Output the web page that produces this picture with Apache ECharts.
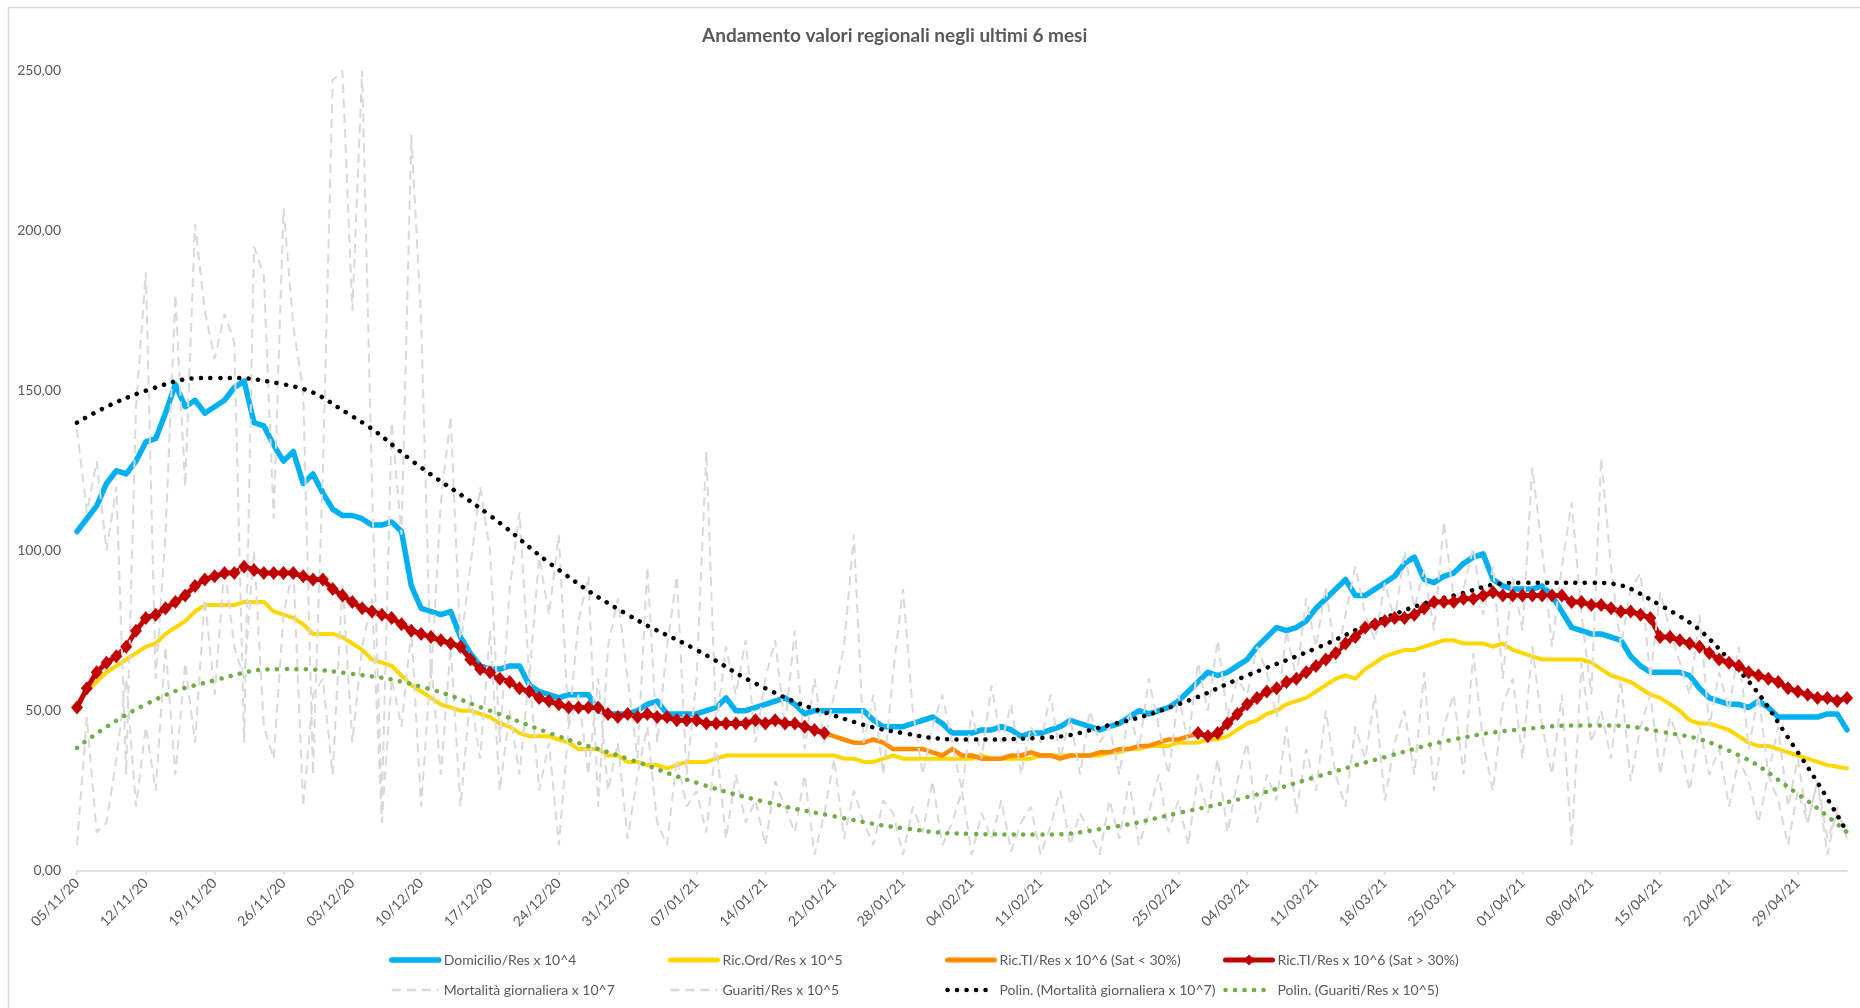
<!DOCTYPE html>
<html>
<head>
<meta charset="utf-8">
<script src="https://cdn.jsdelivr.net/npm/echarts@6/dist/echarts.min.js"></script>
<style>
  html, body { margin: 0; padding: 0; background: #ffffff; }
  #chart { width: 1860px; height: 1008px; }
</style>
</head>
<body>
<div id="chart"></div>
<script>
// ---- Daily categories: 05/11/20 -> 04/05/21 ----
const firstDay = Date.UTC(2020, 10, 5);
const dayCount = 181;
const dates = [];
for (let i = 0; i < dayCount; i++) {
  const d = new Date(firstDay + i * 86400000);
  const dd = String(d.getUTCDate()).padStart(2, '0');
  const mm = String(d.getUTCMonth() + 1).padStart(2, '0');
  const yy = String(d.getUTCFullYear()).slice(2);
  dates.push(dd + '/' + mm + '/' + yy);
}

// Y axis ticks
const yTicks = [0, 50, 100, 150, 200, 250];

// Domicilio / residenti x 10^4
const domicilio = [
  106,110,114,121,125,124,128,134,135,143,
  152,145,147,143,145,147,151,153,140,139,
  133,128,131,121,124,118,113,111,111,110,
  108,108,109,106,89,82,81,80,81,73,
  68,64,63,63,64,64,58,56,55,54,
  55,55,55,50,49,49,49,50,52,53,
  49,49,49,49,50,51,54,50,50,51,
  52,53,54,52,49,50,50,50,50,50,
  50,47,45,45,45,46,47,48,46,43,
  43,43,44,44,45,44,42,43,43,44,
  45,47,46,45,44,45,46,48,50,49,
  50,51,53,56,59,62,61,62,64,66,
  70,73,76,75,76,78,82,85,88,91,
  86,86,88,90,92,96,98,91,90,92,
  93,96,98,99,91,89,88,88,88,89,
  86,81,76,75,74,74,73,72,67,64,
  62,62,62,62,61,57,54,53,52,52,
  51,53,51,48,48,48,48,48,49,49,44
];

// Ricoveri ordinari / residenti x 10^5
const ricOrd = [
  52,56,59,62,64,66,68,70,71,74,
  76,78,81,83,83,83,83,84,84,84,
  81,80,79,77,74,74,74,73,71,69,
  66,65,64,61,58,56,54,52,51,50,
  50,49,48,46,45,43,42,42,42,41,
  40,38,38,38,36,36,34,34,33,33,
  32,33,34,34,34,35,36,36,36,36,
  36,36,36,36,36,36,36,36,35,35,
  34,34,35,36,35,35,35,35,35,35,
  35,35,36,35,35,35,35,35,36,36,
  36,36,36,36,36,37,37,38,38,39,
  39,39,40,40,40,41,41,42,44,46,
  47,49,50,52,53,54,56,58,60,61,
  60,63,65,67,68,69,69,70,71,72,
  72,71,71,71,70,71,69,68,67,66,
  66,66,66,66,65,63,61,60,59,57,
  55,54,52,50,47,46,46,45,44,42,
  40,39,39,38,37,36,35,34,33,32.5,32
];

// Terapia intensiva / residenti x 10^6, saturazione sopra il 30% (05/11/20 -> 20/01/21)
const ricTIHighStart = 0;
const ricTIHighFirst = [
  51,57,62,65,67,70,75,79,80,82,
  84,86,89,91,92,93,93,95,94,93,
  93,93,93,92,91,91,88,86,84,82,
  81,80,79,77,75,74,73,72,71,70,
  66,63,62,60,59,57,56,54,53,52,
  51,51,51,51,49,48,49,48,49,48,
  48,47,47,47,46,46,46,46,46,47,
  46,47,46,46,45,44,43
];

// Terapia intensiva, saturazione sotto il 30% (20/01/21 -> 27/02/21)
const ricTILowStart = 76;
const ricTILow = [
  43,42,41,40,40,41,40,38,38,38,
  38,37,36,38,36,36,35,35,35,36,
  36,37,36,36,35,36,36,36,37,37,
  38,38,39,39,40,41,41,42,43
];

// Terapia intensiva, saturazione di nuovo sopra il 30% (27/02/21 -> 04/05/21)
const ricTIHighSecondStart = 114;
const ricTIHighSecond = [
  43,42,43,46,49,52,
  54,56,57,59,60,62,64,66,68,71,
  73,76,77,78,79,79,80,82,84,84,
  84,85,85,86,87,86,86,86,86,86,
  86,86,84,84,83,83,82,81,81,80,
  79,73,73,72,71,70,68,66,65,64,
  62,61,60,59,57,56,55,54,54,53,54
];

// Mortalità giornaliera x 10^7
const mortalita = [
  138,112,128,100,120,30,145,187,60,105,
  180,120,202,175,160,174,165,40,195,186,
  110,207,170,150,30,125,247,250,175,250,
  120,20,140,105,230,172,60,115,142,70,
  95,120,100,40,88,112,60,98,80,105,
  45,78,92,20,70,85,60,35,95,40,
  70,92,30,60,131,45,70,55,72,40,
  60,72,45,75,38,60,40,55,70,105,
  40,55,30,62,88,50,30,45,55,40,
  25,50,35,58,40,52,30,45,40,55,
  35,48,30,50,40,45,30,50,38,60,
  45,30,55,40,65,50,72,48,60,55,
  70,62,48,75,60,85,70,89,65,80,
  95,80,72,90,78,100,82,94,75,109,
  85,88,101,80,95,60,92,75,126,100,
  70,95,115,80,55,129,95,70,88,93,
  60,87,75,65,55,80,45,62,50,70,
  38,55,30,45,20,35,15,28,5,20,10
];

// Guariti / residenti x 10^5
const guariti = [
  8,48,12,15,35,60,20,45,25,70,
  30,65,40,85,55,95,70,60,100,45,
  35,80,95,20,55,60,30,90,40,70,
  85,15,60,45,75,20,65,30,70,20,
  55,35,75,25,50,30,62,25,40,8,
  45,55,30,60,25,40,10,30,45,15,
  8,35,20,25,12,40,10,30,15,22,
  8,28,20,12,30,5,18,35,10,25,
  15,8,22,18,5,20,12,28,8,15,
  25,5,18,10,22,6,15,20,5,14,
  25,8,18,12,5,22,10,28,8,18,
  30,12,22,8,30,18,35,12,28,40,
  15,30,22,45,18,38,25,50,30,20,
  45,35,55,22,40,50,30,62,25,45,
  55,30,68,40,25,52,60,35,70,45,
  30,55,8,65,40,50,35,60,28,45,
  55,30,48,40,25,45,30,38,20,35,
  28,15,30,22,8,25,15,28,10,18,12
];

// Polynomial trend curves, sampled weekly: [day index, value]
const trendMortalita = [
  [0,140],[7,150],[14,154],[21,152],[28,142],[35,126],[42,111],[49,94],
  [56,80],[63,69],[70,57],[77,48.5],[84,43],[91,41],[98,41.5],[105,45.5],
  [112,52],[119,61],[126,69.5],[133,79],[140,86],[147,90],[154,90],[161,83],
  [168,66],[175,37],[180,12]
];
const trendGuariti = [
  [0,38.4],[7,52],[14,59.5],[21,63],[28,61.5],[35,57.5],[42,50],[49,42],
  [56,35],[63,27.5],[70,21.5],[77,17],[84,13.3],[91,11.5],[98,11.3],[105,13.5],
  [112,18],[119,23],[126,29.3],[133,35.5],[140,41],[147,44.2],[154,45.4],[161,43.5],
  [168,37.5],[175,24],[180,12]
];

// Places a run of daily values at its starting day; other days stay empty.
function placeRun(start, values, target) {
  const out = target || new Array(dayCount).fill(null);
  values.forEach((v, k) => { out[start + k] = v; });
  return out;
}
const ricTIHigh = placeRun(ricTIHighSecondStart, ricTIHighSecond,
                           placeRun(ricTIHighStart, ricTIHighFirst));
const ricTILowFull = placeRun(ricTILowStart, ricTILow);

const NAMES = {
  dom: 'Domicilio/Res x 10^4',
  ord: 'Ric.Ord/Res x 10^5',
  tiLow: 'Ric.TI/Res x 10^6 (Sat < 30%)',
  tiHigh: 'Ric.TI/Res x 10^6 (Sat > 30%)',
  mort: 'Mortalità giornaliera x 10^7',
  guar: 'Guariti/Res x 10^5',
  pMort: 'Polin. (Mortalità giornaliera x 10^7)',
  pGuar: 'Polin. (Guariti/Res x 10^5)'
};

const FONT = 'Lato, "Noto Sans", sans-serif';
const TEXT_COLOR = '#595959';
const NO_MARKER = { color: 'rgba(0,0,0,0)', borderColor: 'rgba(0,0,0,0)', borderWidth: 0 };

// Legend entries: line-only keys hide the default marker
const legendEntry = {};
legendEntry[NAMES.dom] = { name: NAMES.dom, itemStyle: NO_MARKER, lineStyle: { width: 5.5 } };
legendEntry[NAMES.ord] = { name: NAMES.ord, itemStyle: NO_MARKER, lineStyle: { width: 5 } };
legendEntry[NAMES.tiLow] = { name: NAMES.tiLow, itemStyle: NO_MARKER, lineStyle: { width: 5 } };
legendEntry[NAMES.tiHigh] = { name: NAMES.tiHigh, lineStyle: { width: 5 } };
legendEntry[NAMES.mort] = { name: NAMES.mort, itemStyle: NO_MARKER, lineStyle: { width: 2.5 } };
legendEntry[NAMES.guar] = { name: NAMES.guar, itemStyle: NO_MARKER, lineStyle: { width: 2.5 } };
legendEntry[NAMES.pMort] = { name: NAMES.pMort, itemStyle: NO_MARKER, lineStyle: { width: 4.5 } };
legendEntry[NAMES.pGuar] = { name: NAMES.pGuar, itemStyle: NO_MARKER, lineStyle: { width: 4.5 } };

const legendColumns = [
  { left: 389, names: [NAMES.dom, NAMES.mort] },
  { left: 668, names: [NAMES.ord, NAMES.guar] },
  { left: 945, names: [NAMES.tiLow, NAMES.pMort] },
  { left: 1223, names: [NAMES.tiHigh, NAMES.pGuar] }
];

const chart = echarts.init(document.getElementById('chart'), null, { renderer: 'canvas' });

const option = {
  backgroundColor: '#ffffff',
  animation: false,
  title: {
    text: 'Andamento valori regionali negli ultimi 6 mesi',
    left: 697,
    top: 21,
    textStyle: { fontFamily: FONT, fontWeight: 'bold', fontSize: 19, color: TEXT_COLOR }
  },
  graphic: [{
    type: 'rect',
    silent: true,
    shape: { x: 8.5, y: 7.5, width: 2000, height: 1200 },
    style: { fill: 'none', stroke: '#D9D9D9', lineWidth: 1.5 }
  }],
  legend: legendColumns.map(col => ({
    orient: 'vertical',
    left: col.left,
    top: 951,
    height: 56,
    padding: 0,
    itemWidth: 47,
    itemHeight: 14,
    itemGap: 12,
    selectedMode: false,
    data: col.names.map(n => legendEntry[n]),
    textStyle: { fontFamily: FONT, fontSize: 14, lineHeight: 18, color: TEXT_COLOR }
  })),
  grid: { left: 77, right: 13, top: 70.7, bottom: 137.3, containLabel: false },
  xAxis: {
    type: 'category',
    data: dates,
    boundaryGap: false,
    axisLine: { lineStyle: { color: '#D9D9D9', width: 1.5 } },
    axisTick: { show: true, interval: 6, length: 4, lineStyle: { color: '#D9D9D9', width: 1.5 } },
    axisLabel: { interval: 6, rotate: 45, margin: 10, color: TEXT_COLOR, fontFamily: FONT, fontSize: 14 },
    splitLine: { show: false }
  },
  yAxis: {
    type: 'value',
    min: yTicks[0],
    max: yTicks[yTicks.length - 1],
    interval: yTicks[1] - yTicks[0],
    axisLine: { show: false },
    axisTick: { show: false },
    splitLine: { show: false },
    axisLabel: {
      margin: 16,
      color: TEXT_COLOR,
      fontFamily: FONT,
      fontSize: 14,
      formatter: v => v.toFixed(2).replace('.', ',')
    }
  },
  series: [
    {
      name: NAMES.dom, type: 'line', data: domicilio, symbol: 'none',
      itemStyle: { color: '#00B0F0' },
      lineStyle: { color: '#00B0F0', width: 5.5, cap: 'round', join: 'round' }
    },
    {
      name: NAMES.ord, type: 'line', data: ricOrd, symbol: 'none',
      itemStyle: { color: '#FFD700' },
      lineStyle: { color: '#FFD700', width: 4, cap: 'round', join: 'round' }
    },
    {
      name: NAMES.tiLow, type: 'line', data: ricTILowFull, symbol: 'none',
      itemStyle: { color: '#FF8C00' },
      lineStyle: { color: '#FF8C00', width: 4.5, cap: 'round', join: 'round' }
    },
    {
      name: NAMES.tiHigh, type: 'line', data: ricTIHigh,
      symbol: 'diamond', symbolSize: [12, 14], showAllSymbol: true,
      itemStyle: { color: '#C00000' },
      lineStyle: { color: '#C00000', width: 5, cap: 'round', join: 'round' }
    },
    {
      name: NAMES.mort, type: 'line', data: mortalita, symbol: 'none',
      itemStyle: { color: '#D9D9D9' },
      lineStyle: { color: '#D9D9D9', width: 2, type: [9, 6] }
    },
    {
      name: NAMES.guar, type: 'line', data: guariti, symbol: 'none',
      itemStyle: { color: '#D9D9D9' },
      lineStyle: { color: '#D9D9D9', width: 2, type: [9, 6] }
    },
    {
      name: NAMES.pMort, type: 'line', data: trendMortalita, symbol: 'none', smooth: true,
      itemStyle: { color: '#000000' },
      lineStyle: { color: '#000000', width: 4.5, type: [0.1, 9.4], cap: 'round' }
    },
    {
      name: NAMES.pGuar, type: 'line', data: trendGuariti, symbol: 'none', smooth: true,
      itemStyle: { color: '#70AD47' },
      lineStyle: { color: '#70AD47', width: 4.5, type: [0.1, 9.4], cap: 'round' }
    }
  ]
};

chart.setOption(option);
</script>
</body>
</html>
